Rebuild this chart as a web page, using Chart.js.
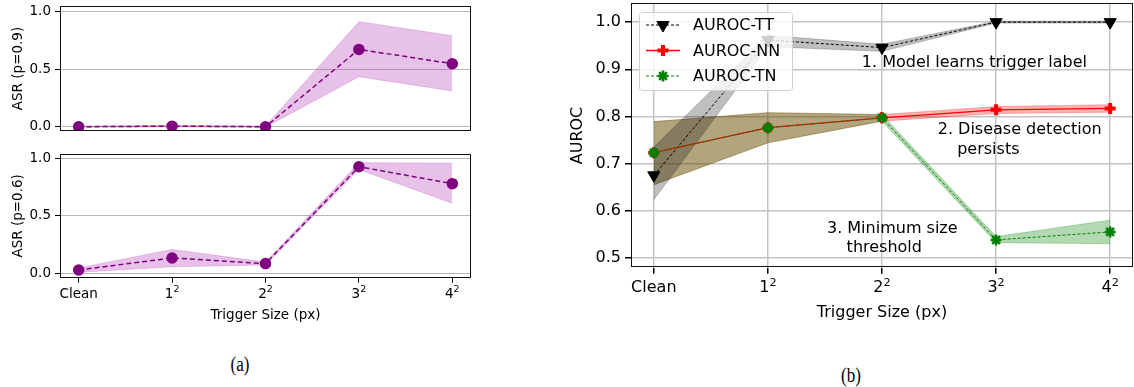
<!DOCTYPE html>
<html>
<head>
<meta charset="utf-8">
<script src="https://cdn.jsdelivr.net/npm/chart.js@4.4.0/dist/chart.umd.min.js"></script>
<style>
  body { margin: 0; background: #fff; width: 1134px; height: 387px; position: relative; overflow: hidden; }
  canvas { position: absolute; }
  .cap { position: absolute; font-family: 'Liberation Serif', serif; font-size: 20px; color: #000; transform: translate(-50%, -50%) scaleX(0.85); }
</style>
</head>
<body>
<canvas id="asr09" width="480" height="140" style="left:0;top:0"></canvas>
<canvas id="asr06" width="480" height="182" style="left:0;top:148px"></canvas>
<canvas id="auroc" width="594" height="330" style="left:540px;top:0"></canvas>
<div class="cap" style="left:240px;top:364px">(a)</div>
<div class="cap" style="left:851px;top:375px">(b)</div>
<script>
// valeurs
const categories = ['Clean', '1²', '2²', '3²', '4²'];
const asrTicks = [0, 0.5, 1.0];
const aurocTicks = [0.5, 0.6, 0.7, 0.8, 0.9, 1.0];

// ASR p=0.9
const asr09Mean = [0.0, 0.005, 0.0, 0.67, 0.546];
const asr09Lower = [-0.004, -0.002, -0.004, 0.433, 0.31];
const asr09Upper = [0.007, 0.012, 0.007, 0.91, 0.789];

// ASR p=0.6
const asr06Mean = [0.032, 0.136, 0.087, 0.927, 0.78];
const asr06Lower = [0.012, 0.06, 0.075, 0.902, 0.61];
const asr06Upper = [0.05, 0.21, 0.1, 0.962, 0.957];

// AUROC
const ttMean = [0.675, 0.962, 0.946, 1.0, 1.0];
const ttLower = [0.623, 0.948, 0.938, 0.998, 0.998];
const ttUpper = [0.735, 0.972, 0.953, 1.002, 1.002];
const nnMean = [0.723, 0.776, 0.797, 0.814, 0.817];
const nnLower = [0.655, 0.744, 0.790, 0.806, 0.809];
const nnUpper = [0.789, 0.808, 0.804, 0.821, 0.825];
const tnMean = [0.723, 0.776, 0.797, 0.538, 0.555];
const tnLower = [0.655, 0.744, 0.790, 0.532, 0.530];
const tnUpper = [0.789, 0.808, 0.804, 0.545, 0.580];

Chart.defaults.font.family = "'DejaVu Sans', sans-serif";
Chart.defaults.color = '#000';

const pts = vals => vals.map((v, i) => ({ x: i, y: v }));

// taille fixe des axes, sans marge automatique pour les étiquettes
const fixer = (prop, val) => s => {
    s[prop] = val;
    s.paddingTop = 0;
    s.paddingBottom = 0;
    s.paddingLeft = 0;
    s.paddingRight = 0;
};

// cadre noir autour de la zone de tracé
const frame = {
    id: 'frame',
    afterDatasetsDraw(chart) {
        const { ctx, chartArea: a } = chart;
        ctx.save();
        ctx.strokeStyle = '#111';
        ctx.lineWidth = 1;
        ctx.strokeRect(Math.round(a.left) + 0.5, Math.round(a.top) + 0.5,
            Math.round(a.right - a.left) - 1, Math.round(a.bottom - a.top) - 1);
        ctx.restore();
    }
};

// étiquettes de l'axe x avec exposant comme en mathtext
const xLabels = {
    id: 'xLabels',
    afterDraw(chart) {
        const s = chart.scales.x;
        if (!s.options.display) return;
        const { ctx } = chart;
        const size = s.options.ticks.font.size;
        const centre = s.top + s.options.grid.tickLength + s.options.ticks.padding + size * 0.6;
        const base = centre + size * 0.36;
        ctx.save();
        ctx.fillStyle = '#000';
        ctx.textBaseline = 'alphabetic';
        ctx.textAlign = 'left';
        s.ticks.forEach(t => {
            const lab = categories[t.value];
            const px = s.getPixelForValue(t.value);
            ctx.font = size + "px 'DejaVu Sans'";
            if (lab.endsWith('²')) {
                const b = lab.slice(0, -1);
                const wb = ctx.measureText(b).width;
                ctx.font = (size * 0.7) + "px 'DejaVu Sans'";
                const ws = ctx.measureText('2').width;
                const x0 = px - (wb + ws) / 2;
                ctx.font = size + "px 'DejaVu Sans'";
                ctx.fillText(b, x0, base);
                ctx.font = (size * 0.7) + "px 'DejaVu Sans'";
                ctx.fillText('2', x0 + wb, base - size * 0.42);
            } else {
                const w = ctx.measureText(lab).width;
                ctx.fillText(lab, px - w / 2, base);
            }
        });
        ctx.restore();
    }
};

const bande = (data, color, fill, order) => ({
    data: pts(data),
    borderColor: color,
    borderWidth: 0.8,
    backgroundColor: color,
    pointRadius: 0,
    fill: fill,
    order: order
});

const xTicks = s => { s.ticks = categories.map((c, i) => ({ value: i })); };

// graphiques ASR (a)
const creerAsr = (id, mean, lower, upper, yLabel, withX) => {
    const purple = '#800080';
    const band = 'rgba(180, 50, 180, 0.3)';
    new Chart(document.getElementById(id), {
        type: 'line',
        data: {
            datasets: [{
                data: pts(mean),
                borderColor: purple,
                borderWidth: 1.5,
                borderDash: [5, 3],
                pointRadius: 5,
                pointBackgroundColor: purple,
                pointBorderColor: purple,
                fill: false,
                order: 1
            },
            bande(lower, band, false, 10),
            bande(upper, band, '-1', 10)]
        },
        options: {
            responsive: false,
            animation: false,
            events: [],
            layout: { autoPadding: false, padding: { top: 6, right: 9, left: 0, bottom: withX ? 0 : 9 } },
            plugins: { legend: { display: false }, tooltip: { enabled: false } },
            scales: {
                x: {
                    type: 'linear', min: -0.2, max: 4.2,
                    display: withX,
                    afterBuildTicks: xTicks,
                    afterFit: fixer('height', withX ? 52.3 : 0),
                    grid: { drawOnChartArea: false, tickLength: 5, tickColor: '#000' },
                    border: { display: false },
                    ticks: { padding: 2.5, maxRotation: 0, autoSkip: false, color: 'rgba(0,0,0,0)', font: { size: 13.5 }, callback: v => categories[v] },
                    title: { display: true, text: 'Trigger Size (px)', font: { size: 13.5 }, padding: { top: 0, bottom: 6 } }
                },
                y: {
                    min: withX ? -0.035 : -0.037, max: withX ? 1.037 : 1.046,
                    afterBuildTicks: s => { s.ticks = asrTicks.map(v => ({ value: v })); },
                    afterFit: fixer('width', 60),
                    grid: { color: '#b8b8b8', lineWidth: 1, tickLength: 5, tickColor: '#000' },
                    border: { display: false },
                    ticks: { padding: 4, font: { size: 13.5 }, callback: v => v.toFixed(1) },
                    title: { display: true, text: yLabel, font: { size: 13.5 }, padding: { top: 10, bottom: 0 } }
                }
            }
        },
        plugins: [frame, xLabels]
    });
};

creerAsr('asr09', asr09Mean, asr09Lower, asr09Upper, 'ASR (p=0.9)', false);
creerAsr('asr06', asr06Mean, asr06Lower, asr06Upper, 'ASR (p=0.6)', true);

// textes d'annotation (coordonnées en unités de données)
const notes = [
    { text: '1. Model learns trigger label', x: 2.81, y: 0.914 },
    { text: '2. Disease detection', x: 3.207, y: 0.771 },
    { text: 'persists', x: 2.932, y: 0.729 },
    { text: '3. Minimum size', x: 2.09, y: 0.5605 },
    { text: 'threshold', x: 2.02, y: 0.5215 }
];

const annotations = {
    id: 'annotations',
    afterDatasetsDraw(chart) {
        const { ctx, scales: { x, y } } = chart;
        ctx.save();
        ctx.font = "16px 'DejaVu Sans'";
        ctx.fillStyle = '#000';
        ctx.textAlign = 'center';
        ctx.textBaseline = 'middle';
        notes.forEach(n => ctx.fillText(n.text, x.getPixelForValue(n.x), y.getPixelForValue(n.y)));
        ctx.restore();
    }
};

// légende maison : ligne + marqueur comme matplotlib
const legende = {
    id: 'legende',
    afterDraw(chart) {
        const { ctx, chartArea: a } = chart;
        const items = chart.data.datasets.filter(ds => ds.label);
        const bx = a.left + 8, by = a.top + 8.7, bw = 153, bh = 78;
        ctx.save();
        ctx.beginPath();
        ctx.roundRect(bx + 0.5, by + 0.5, bw, bh, 3);
        ctx.fillStyle = 'rgba(255,255,255,0.8)';
        ctx.fill();
        ctx.strokeStyle = '#d0d0d0';
        ctx.lineWidth = 1;
        ctx.stroke();
        const rows = [13, 38.5, 64];
        items.forEach((ds, i) => {
            const yy = by + rows[i];
            ctx.beginPath();
            ctx.setLineDash(ds.borderDash || []);
            ctx.strokeStyle = ds.borderColor;
            ctx.lineWidth = ds.borderWidth;
            ctx.moveTo(bx + 7, yy);
            ctx.lineTo(bx + 41, yy);
            ctx.stroke();
            ctx.setLineDash([]);
            ctx.fillStyle = ds.pointBackgroundColor;
            ctx.strokeStyle = ds.pointBorderColor;
            ctx.lineWidth = ds.pointBorderWidth;
            Chart.helpers.drawPoint(ctx, {
                pointStyle: ds.pointStyle,
                rotation: ds.pointRotation || 0,
                radius: ds.pointRadius,
                borderWidth: ds.pointBorderWidth
            }, bx + 24, yy);
            ctx.fillStyle = '#000';
            ctx.font = "16px 'DejaVu Sans'";
            ctx.textBaseline = 'middle';
            ctx.textAlign = 'left';
            ctx.fillText(ds.label, bx + 54, yy + 1);
        });
        ctx.restore();
    }
};

new Chart(document.getElementById('auroc'), {
    type: 'line',
    data: {
        datasets: [{
            label: 'AUROC-TT',
            data: pts(ttMean),
            borderColor: '#000',
            borderWidth: 1,
            borderDash: [3, 2],
            pointStyle: 'triangle',
            pointRotation: 180,
            pointRadius: 7,
            pointBorderWidth: 1,
            pointBackgroundColor: '#000',
            pointBorderColor: '#000',
            fill: false,
            order: 3
        }, {
            label: 'AUROC-NN',
            data: pts(nnMean),
            borderColor: '#ff0000',
            borderWidth: 1.3,
            pointStyle: 'cross',
            pointRadius: 5.5,
            pointBorderWidth: 4,
            pointBackgroundColor: '#ff0000',
            pointBorderColor: '#ff0000',
            fill: false,
            order: 2
        }, {
            label: 'AUROC-TN',
            data: pts(tnMean),
            borderColor: '#008000',
            borderWidth: 1,
            borderDash: [3, 2],
            pointStyle: 'star',
            pointRadius: 5.5,
            pointBorderWidth: 2.5,
            pointBackgroundColor: '#008000',
            pointBorderColor: '#008000',
            fill: false,
            order: 1
        },
        // bandes : rouge dessous, puis vert, puis gris
        bande(ttLower, 'rgba(0,0,0,0.25)', false, 10),
        bande(ttUpper, 'rgba(0,0,0,0.25)', '-1', 10),
        bande(nnLower, 'rgba(255,0,0,0.3)', false, 12),
        bande(nnUpper, 'rgba(255,0,0,0.3)', '-1', 12),
        bande(tnLower, 'rgba(0,128,0,0.3)', false, 11),
        bande(tnUpper, 'rgba(0,128,0,0.3)', '-1', 11)]
    },
    options: {
        responsive: false,
        animation: false,
        events: [],
        layout: { autoPadding: false, padding: { top: 3.3, right: 1, left: 0, bottom: 0 } },
        plugins: { legend: { display: false }, tooltip: { enabled: false } },
        scales: {
            x: {
                type: 'linear', min: -0.2, max: 4.2,
                afterBuildTicks: xTicks,
                afterFit: fixer('height', 62.3),
                grid: { color: '#c4c4c4', lineWidth: 1.5, tickLength: 6, tickColor: '#000' },
                border: { display: false },
                ticks: { padding: 3.4, maxRotation: 0, autoSkip: false, color: 'rgba(0,0,0,0)', font: { size: 16 }, callback: v => categories[v] },
                title: { display: true, text: 'Trigger Size (px)', font: { size: 16 }, padding: { top: 0, bottom: 8 } }
            },
            y: {
                min: 0.479, max: 1.04,
                afterBuildTicks: s => { s.ticks = aurocTicks.map(v => ({ value: v })); },
                afterFit: fixer('width', 91),
                grid: { color: '#c4c4c4', lineWidth: 1.5, tickLength: 6, tickColor: '#000' },
                border: { display: false },
                ticks: { padding: 4, font: { size: 16 }, callback: v => v.toFixed(1) },
                title: { display: true, text: 'AUROC', font: { size: 16 }, padding: { top: 28, bottom: 0 } }
            }
        }
    },
    plugins: [frame, annotations, xLabels, legende]
});
</script>
</body>
</html>
